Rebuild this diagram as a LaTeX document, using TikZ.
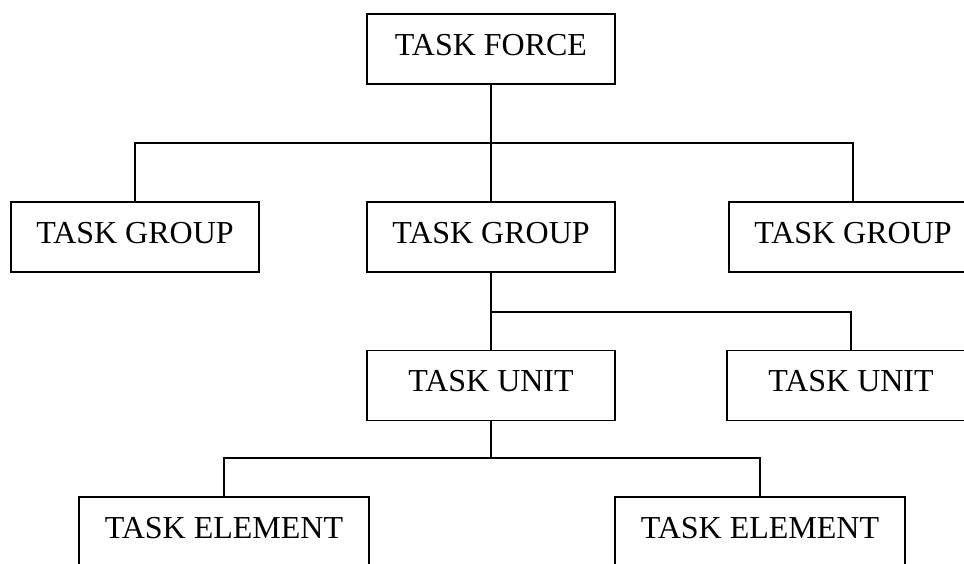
\documentclass[tikz,border=0pt]{standalone}
\usepackage{fontspec}
\setmainfont{Liberation Serif}
\begin{document}
\begin{tikzpicture}[x=1pt,y=-1pt,
  orgbox/.style={draw, line width=1.8pt, minimum height=70pt, inner sep=0pt,
    text height=12pt, text depth=0pt, font=\fontsize{32}{36}\selectfont},
  wbox/.style={orgbox, minimum width=248pt},
  ebox/.style={orgbox, minimum width=290pt},
  parentline/.style={line width=2.6pt},
  childline/.style={line width=1.6pt}]
\useasboundingbox (0,0) rectangle (964,563);
\clip (0,0) rectangle (964,563);
\node[wbox] (TF) at (491,49) {TASK FORCE};
\node[wbox] (G1) at (135,237) {TASK GROUP};
\node[wbox] (G2) at (491,237) {TASK GROUP};
\node[wbox] (G3) at (853,237) {TASK GROUP};
\node[wbox] (U1) at (491,385.5) {TASK UNIT};
\node[wbox] (U2) at (851,385.5) {TASK UNIT};
\node[ebox] (E1) at (224,532) {TASK ELEMENT};
\node[ebox] (E2) at (760,532) {TASK ELEMENT};
\coordinate (j1) at (491,143);
\coordinate (j2) at (491,312);
\coordinate (j3) at (491,458);
\draw[parentline] (TF.south) -- (j1);
\draw[childline] (G1.north) |- (j1) -| (G3.north);
\draw[childline] (j1) -- (G2.north);
\draw[parentline] (G2.south) -- (j2);
\draw[childline] (j2) -| (U2.north);
\draw[childline] (j2) -- (U1.north);
\draw[parentline] (U1.south) -- (j3);
\draw[childline] (E1.north) |- (j3) -| (E2.north);
\end{tikzpicture}
\end{document}
